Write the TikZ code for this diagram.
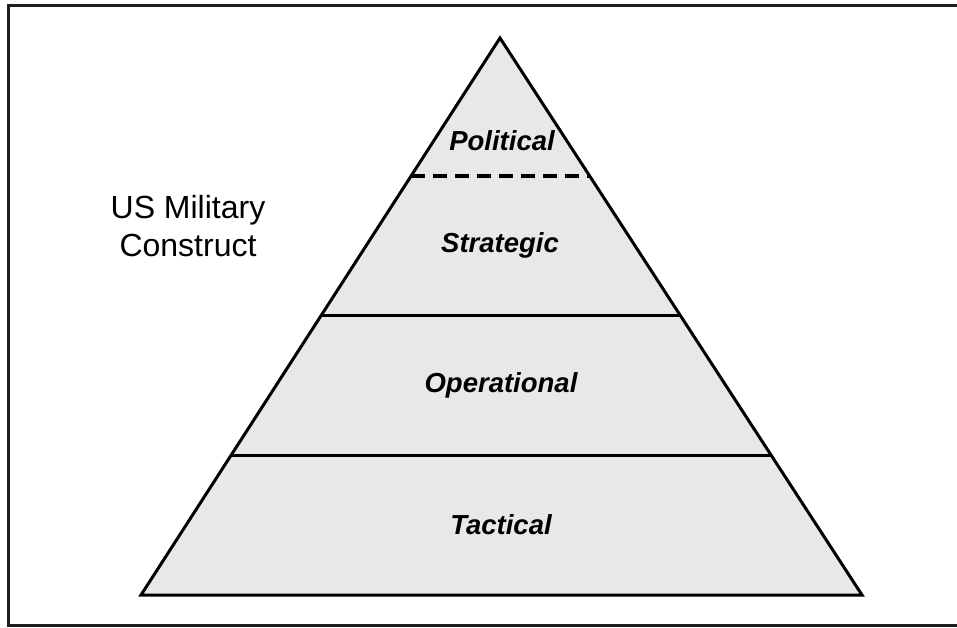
\documentclass[tikz,border=0pt]{standalone}
\usepackage{fontspec}
\setmainfont{Liberation Sans}
\usetikzlibrary{positioning}
\usetikzlibrary{calc}
\definecolor{slab}{RGB}{232,232,232}
\definecolor{rim}{RGB}{30,30,30}

\begin{document}
\begin{tikzpicture}[
    x=1pt, y=-1pt,
    % node styles
    level/.style = {
      draw=none,
      align=center,
      font=\fontsize{27.5}{31}\selectfont\bfseries\itshape,
      text=black
    },
    side/.style = {
      align=center,
      font=\fontsize{32}{38}\selectfont,
      text=black
    },
    % line styles
    edge/.style = {line width=3pt, draw=black, line join=miter},
    cut/.style = {line width=3pt, draw=black},
    dashcut/.style = {line width=3.5pt, draw=black, dash pattern=on 14pt off 8pt},
    frame/.style = {line width=3pt, draw=rim}
  ]
  \useasboundingbox (0,0) rectangle (957,627);

  % --- Frame
  \draw[frame] (957,5) -- (8,5) -- (8,625) -- (957,625);

  % --- Pyramid
  \coordinate (apex) at (500,38);
  \coordinate (bl) at (141,595);
  \coordinate (br) at (862,595);
  \fill[slab] (apex) -- (bl) -- (br) -- cycle;

  \coordinate (polL) at ($(apex)!0.248!(bl)$);
  \coordinate (polR) at ($(apex)!0.248!(br)$);
  \coordinate (strL) at ($(apex)!0.498!(bl)$);
  \coordinate (strR) at ($(apex)!0.498!(br)$);
  \coordinate (opL) at ($(apex)!0.749!(bl)$);
  \coordinate (opR) at ($(apex)!0.749!(br)$);

  \draw[dashcut] (polL) -- (polR);
  \draw[cut] (strL) -- (strR);
  \draw[cut] (opL) -- (opR);
  \draw[edge] (apex) -- (bl) -- (br) -- cycle;

  % --- Nodes
  \node[level] (pol) at (502,141) {Political};
  \node[level] (str) at (500,245) {Strategic};
  \node[level] (op) at (501,385) {Operational};
  \node[level] (tac) at (501,525) {Tactical};

  \node[side] (us) at (188,226) {US Military\\Construct};

\end{tikzpicture}
\end{document}
